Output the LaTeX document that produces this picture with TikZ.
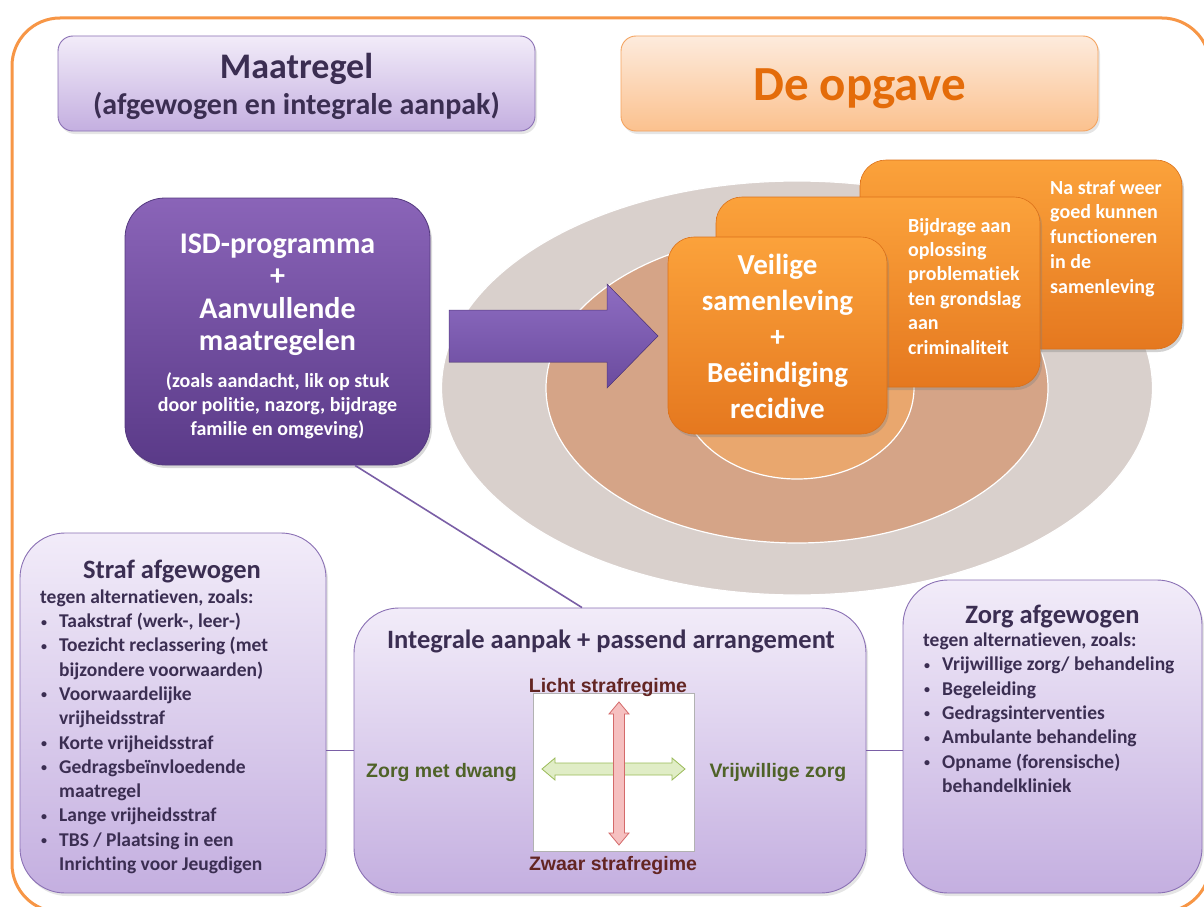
\documentclass[tikz,border=0pt]{standalone}
\usepackage{fontspec}
\setmainfont{Carlito}[Ligatures=NoCommon]
\newfontfamily\labelfont{Liberation Sans}
\usetikzlibrary{shadows, positioning}

\definecolor{frameorange}{HTML}{F79646}
\definecolor{lavtop}{HTML}{F2ECF9}
\definecolor{lavbot}{HTML}{C4AFE0}
\definecolor{lavedge}{HTML}{8A70B4}
\definecolor{linkpurple}{HTML}{7A5EA6}
\definecolor{inkpurple}{HTML}{3B2E52}
\definecolor{isdtop}{HTML}{8A64B8}
\definecolor{isdbot}{HTML}{5A3A88}
\definecolor{isdedge}{HTML}{553A80}
\definecolor{peachtop}{HTML}{FDEBDD}
\definecolor{peachbot}{HTML}{FBC18E}
\definecolor{peachedge}{HTML}{F4A460}
\definecolor{opgaveink}{HTML}{E46C0A}
\definecolor{ortop}{HTML}{FBA23B}
\definecolor{orbot}{HTML}{E5781F}
\definecolor{oredge}{HTML}{DB7019}
\definecolor{ringouter}{HTML}{D9D0CC}
\definecolor{ringmid}{HTML}{D5A487}
\definecolor{ringinner}{HTML}{E9A76E}
\definecolor{regimered}{HTML}{632523}
\definecolor{zorggreen}{HTML}{4F6228}
\definecolor{redfill}{HTML}{F6C0C0}
\definecolor{rededge}{HTML}{D46A6A}
\definecolor{greenfill}{HTML}{E0EDC6}
\definecolor{greenedge}{HTML}{9BBB59}
\definecolor{arrowtop}{HTML}{8E6DC2}
\definecolor{arrowbot}{HTML}{6B4B9E}

\newcommand{\listbul}{\hspace*{1pt}\makebox[18pt][l]{\raisebox{1.5pt}{\fontsize{12}{12}\selectfont\textbullet}}}
\newcommand{\listind}{\hspace*{19pt}}

\begin{document}
\begin{tikzpicture}[x=1pt, y=-1pt,
  lavbox/.style={draw=lavedge, line width=0.9pt, top color=lavtop, bottom color=lavbot,
    rounded corners=45pt, inner sep=0pt,
    drop shadow={opacity=0.2, shadow xshift=2pt, shadow yshift=-3pt}},
  headbox/.style={lavbox, rounded corners=15pt},
  opgavebox/.style={headbox, draw=peachedge, top color=peachtop, bottom color=peachbot},
  isdbox/.style={draw=isdedge, line width=0.8pt, top color=isdtop, bottom color=isdbot,
    rounded corners=40pt, inner sep=0pt,
    drop shadow={opacity=0.3, shadow xshift=2pt, shadow yshift=-3pt}},
  goalbox/.style={draw=oredge, line width=0.6pt, top color=ortop, bottom color=orbot,
    rounded corners=26pt, inner sep=0pt,
    drop shadow={opacity=0.35, shadow xshift=2pt, shadow yshift=-3pt}},
  ring/.style={draw=white, line width=1.2pt},
  purpletext/.style={text=inkpurple, inner sep=0pt},
  whitetext/.style={text=white, inner sep=0pt},
  axislabel/.style={font=\labelfont\bfseries\fontsize{19.5}{23}\selectfont, inner sep=0pt, anchor=base},
  link/.style={draw=linkpurple, line width=1.6pt}
]
\useasboundingbox (0,0) rectangle (1204,907);
\clip (0,0) rectangle (1204,907);
\fill[white] (0,0) rectangle (1204,907);

% frame
\draw[frameorange, line width=3pt, rounded corners=48pt] (12,18) rectangle (1210,912);

% headers
\node[headbox, minimum width=477pt, minimum height=95pt] (maat) at (296.5,83.5) {};
\node[purpletext, anchor=base, font=\fontsize{36}{43}\selectfont\bfseries] (maattitle) at (296.5,78.5) {Maatregel};
\node[purpletext, anchor=base, font=\fontsize{30}{36}\selectfont\bfseries] (maatsub) at (296.5,114.5) {(afgewogen en integrale aanpak)};
\node[opgavebox, minimum width=477pt, minimum height=95pt] (opgave) at (859.5,83.5) {};
\node[text=opgaveink, inner sep=0pt, anchor=base, font=\fontsize{49}{58}\selectfont\bfseries] (opgavetitle) at (859.5,100) {De opgave};

% rings
\filldraw[ring, fill=ringouter] (797,388) ellipse [x radius=355.5, y radius=207];
\filldraw[ring, fill=ringmid] (797,388) ellipse [x radius=251, y radius=155];
\filldraw[ring, fill=ringinner] (797,388) ellipse [x radius=117, y radius=91];

% goals
\node[goalbox, minimum width=322pt, minimum height=189pt] (nastraf) at (1021,254.5) {};
\node[whitetext, anchor=north west, align=left, font=\fontsize{20}{24.8}\selectfont\bfseries] (nastraftext) at (1050,176.6)
  {\strut Na straf weer\\goed kunnen\\functioneren\\in de\\samenleving};
\node[goalbox, minimum width=324pt, minimum height=190pt] (bijdrage) at (878,292) {};
\node[whitetext, anchor=north west, align=left, font=\fontsize{20}{24.4}\selectfont\bfseries] (bijdragetext) at (908,214.9)
  {\strut Bijdrage aan\\oplossing\\problematiek\\ten grondslag\\aan\\criminaliteit};
\node[goalbox, minimum width=219pt, minimum height=197pt] (veilige) at (777.5,335.5) {};
\node[whitetext, anchor=north, align=center, font=\fontsize{29}{36}\selectfont\bfseries] (veiligetext) at (777.5,248.8)
  {\strut Veilige\\samenleving\\+\\Beëindiging\\recidive};

% ISD
\node[isdbox, minimum width=305pt, minimum height=267pt] (isd) at (277.5,331.5) {};
\node[whitetext, anchor=north, align=center, font=\fontsize{30}{32.5}\selectfont\bfseries] (isdtitle) at (277.5,230.25)
  {\strut ISD-programma\\+\\Aanvullende\\maatregelen};
\node[whitetext, anchor=north, align=center, font=\fontsize{20}{24}\selectfont\bfseries] (isdnote) at (277.5,370.2)
  {\strut (zoals aandacht, lik op stuk\\door politie, nazorg, bijdrage\\familie en omgeving)};

% big arrow
\filldraw[top color=arrowtop, bottom color=arrowbot, draw=isdedge, line width=0.5pt]
  (449,310) -- (607,310) -- (607,284) -- (658,336) -- (607,388) -- (607,362) -- (449,362) -- cycle;

% straf
\node[lavbox, minimum width=306pt, minimum height=360pt] (straf) at (173,713) {};
\node[purpletext, anchor=base, font=\fontsize{26.5}{31}\selectfont\bfseries] (straftitle) at (172,578) {Straf afgewogen};
\node[purpletext, anchor=north west, align=left, font=\fontsize{19.5}{24.3}\selectfont\bfseries] (straflist) at (40,586)
  {\strut tegen alternatieven, zoals:\\
   \listbul Taakstraf (werk-, leer-)\\
   \listbul Toezicht reclassering (met\\
   \listind bijzondere voorwaarden)\\
   \listbul Voorwaardelijke\\
   \listind vrijheidsstraf\\
   \listbul Korte vrijheidsstraf\\
   \listbul Gedragsbeïnvloedende\\
   \listind maatregel\\
   \listbul Lange vrijheidsstraf\\
   \listbul TBS / Plaatsing in een\\
   \listind Inrichting voor Jeugdigen};

% integrale aanpak
\node[lavbox, minimum width=512pt, minimum height=285pt] (integ) at (610,750.5) {};
\node[purpletext, anchor=base, font=\fontsize{26.5}{31}\selectfont\bfseries] (integtitle) at (611,648) {Integrale aanpak + passend arrangement};
\node[draw=black!30, fill=white, minimum width=160.5pt, minimum height=158pt, inner sep=0pt] (grid) at (613.75,772) {};
\filldraw[fill=greenfill, draw=greenedge, line width=0.8pt]
  (542,769) -- (555,758) -- (555,763) -- (672,763) -- (672,758) -- (685,769)
  -- (672,780) -- (672,775) -- (555,775) -- (555,780) -- cycle;
\filldraw[fill=redfill, draw=rededge, line width=0.8pt]
  (619,702) -- (629,714) -- (624.5,714) -- (624.5,833) -- (629,833) -- (619,845)
  -- (609,833) -- (613.5,833) -- (613.5,714) -- (609,714) -- cycle;
\node[axislabel, text=regimered] (licht) at (608,692) {Licht strafregime};
\node[axislabel, text=regimered] (zwaar) at (613,870) {Zwaar strafregime};
\node[axislabel, text=zorggreen] (dwang) at (441.5,777) {Zorg met dwang};
\node[axislabel, text=zorggreen] (vrijwillig) at (778,777) {Vrijwillige zorg};

% zorg
\node[lavbox, minimum width=299pt, minimum height=313pt] (zorg) at (1052.5,736.5) {};
\node[purpletext, anchor=base, font=\fontsize{26.5}{31}\selectfont\bfseries] (zorgtitle) at (1052.5,623) {Zorg afgewogen};
\node[purpletext, anchor=north west, align=left, font=\fontsize{19.5}{24.4}\selectfont\bfseries] (zorglist) at (923,629)
  {\strut tegen alternatieven, zoals:\\
   \listbul Vrijwillige zorg/ behandeling\\
   \listbul Begeleiding\\
   \listbul Gedragsinterventies\\
   \listbul Ambulante behandeling\\
   \listbul Opname (forensische)\\
   \listind behandelkliniek};

% links
\draw[link] ([xshift=77.5pt]isd.south) -- ([xshift=-28pt]integ.north);
\draw[link] (integ.west) -- (integ.west -| straf.east);
\draw[link] (integ.east) -- (integ.east -| zorg.west);
\end{tikzpicture}
\end{document}
